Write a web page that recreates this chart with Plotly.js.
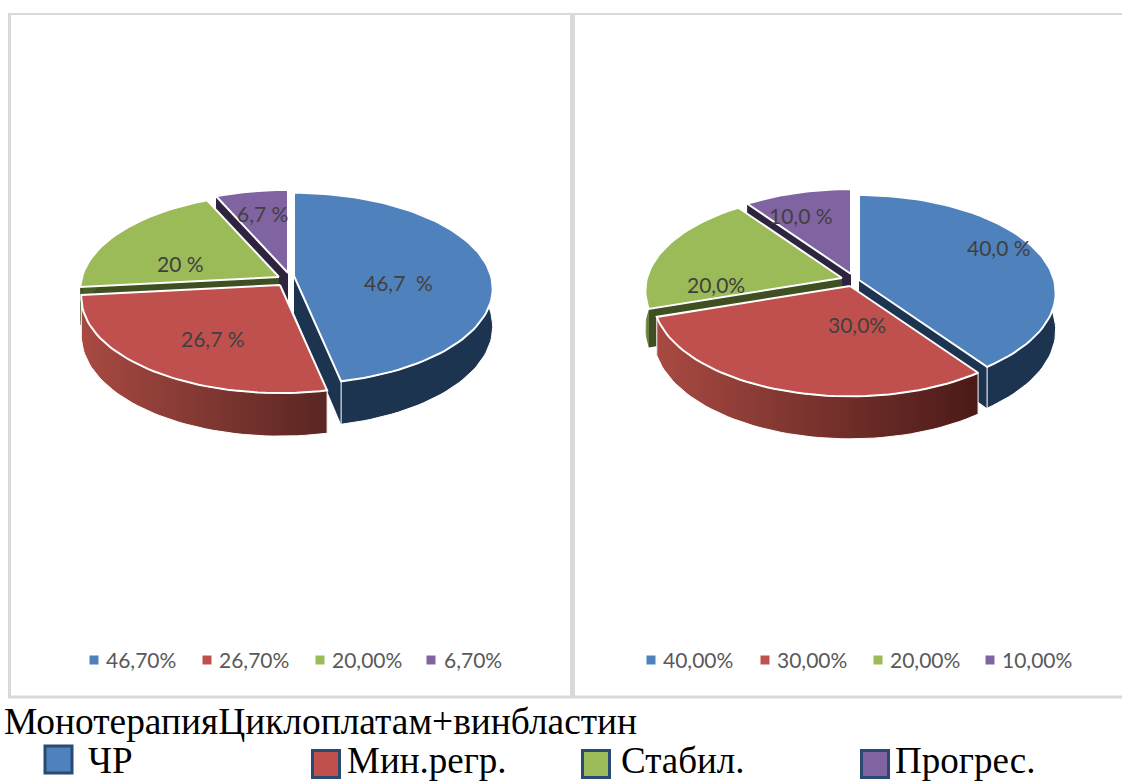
<!DOCTYPE html>
<html>
<head>
<meta charset="utf-8">
<script src="https://cdn.plot.ly/plotly-3.0.1.min.js"></script>
<style>html,body{margin:0;padding:0;background:#fff}#chart{width:1122px;height:782px}</style>
</head>
<body>
<div id="chart"></div>
<script>
// Response rates, percent
const monoValues = [46.7, 26.7, 20, 6.7];
const comboValues = [40, 30, 20, 10];
const monoLabels = ['46,7  %', '26,7 %', '20 %', '6,7 %'];
const comboLabels = ['40,0 %', '30,0%', '20,0%', '10,0 %'];
const monoLegend = ['46,70%', '26,70%', '20,00%', '6,70%'];
const comboLegend = ['40,00%', '30,00%', '20,00%', '10,00%'];
const outcomes = ['ЧР', 'Мин.регр.', 'Стабил.', 'Прогрес.'];
const caption = 'МонотерапияЦиклоплатам+винбластин';

// Slice colours: top face, radial wall, rim gradient
const topColors = ['#4f81bd', '#c0504d', '#9bbb59', '#8064a2'];
const sideColors = ['#1d3450', '#5a2420', '#3f4f22', '#2f2440'];

// Layout of each tilted pie; the apex of every slice is shifted by its own explosion
const pies = [
  {
    values: monoValues, labels: monoLabels, legend: monoLegend,
    a: 197, b: 94, p: 0.13, depth: 37.5,
    apex: [[294, 276], [280, 285], [279, 277], [288, 273]],
    labelAt: [[398, 282], [213, 338], [180, 263], [262, 213]],
    legendMarks: [94, 207, 320, 431],
    legendText: [106, 219, 332, 444],
    redEnd: '#5a2522', greenStart: '#3f4f22'
  },
  {
    values: comboValues, labels: comboLabels, legend: comboLegend,
    a: 195, b: 96, p: 0.13, depth: 37,
    apex: [[859, 280], [850, 286], [842, 278], [851, 274]],
    labelAt: [[999, 247], [857, 324], [716, 284], [801, 215]],
    legendMarks: [651, 765, 878, 990],
    legendText: [663, 777, 890, 1002],
    redEnd: '#4a1a18', greenStart: '#93b05a'
  }
];

const rimGradient = (pie, i) => {
  if (i === 1) return [[0, '#a84a42'], [1, pie.redEnd]];
  if (i === 2) return [[0, pie.greenStart], [0.035, '#4a5d27'], [1, '#3f4f22']];
  return [[0, sideColors[i]], [1, sideColors[i]]];
};

// Perspective projection of a unit-circle angle (0 = top, clockwise) onto the page
function rim(pie, apex, deg, drop) {
  const t = deg * Math.PI / 180;
  const X = Math.sin(t), Y = -Math.cos(t);
  const den = 1 - pie.p * Y;
  return [apex[0] + pie.a * X / den, apex[1] + (pie.b * Y + drop) / den];
}
function arc(pie, apex, from, to, drop) {
  const pts = [];
  const n = Math.max(2, Math.ceil((to - from) / 2));
  for (let k = 0; k <= n; k++) pts.push(rim(pie, apex, from + (to - from) * k / n, drop));
  return pts;
}
function polygon(pts, extra) {
  return Object.assign({
    x: pts.map(p => p[0]).concat(pts[0][0]),
    y: pts.map(p => p[1]).concat(pts[0][1]),
    mode: 'lines', fill: 'toself', hoverinfo: 'skip', showlegend: false
  }, extra);
}

const traces = [];
const annotations = [];
const note = (x, y, text, size, color, family, anchor) => annotations.push({
  x, y, xref: 'x', yref: 'y', text, showarrow: false, xanchor: anchor, yanchor: 'middle',
  font: { size, color, family }, borderpad: 0, borderwidth: 0
});

pies.forEach(pie => {
  const total = pie.values.reduce((s, v) => s + v, 0);
  const spans = [];
  let run = 0;
  pie.values.forEach(v => { spans.push([run, run + v / total * 360]); run += v / total * 360; });

  // Painted back to front so nearer slices hide the walls behind them
  [3, 2, 0, 1].forEach(i => {
    const [from, to] = spans[i];
    const apex = pie.apex[i];
    const dark = { line: { width: 0, color: sideColors[i] }, fillcolor: sideColors[i] };
    [from, to].forEach(edge => {
      const tip = rim(pie, apex, edge, 0), low = rim(pie, apex, edge, pie.depth);
      traces.push(polygon([apex, tip, low, [apex[0], apex[1] + pie.depth]], dark));
    });
    const upper = arc(pie, apex, from, to, 0);
    const lower = arc(pie, apex, from, to, pie.depth).reverse();
    traces.push(polygon(upper.concat(lower), {
      line: { width: i < 2 ? 1 : 0, color: '#ffffff' },
      fillcolor: sideColors[i],
      fillgradient: { type: 'horizontal', colorscale: rimGradient(pie, i) }
    }));
    traces.push(polygon([apex].concat(upper), {
      line: { width: 2, color: '#ffffff' }, fillcolor: topColors[i]
    }));
  });

  pie.labels.forEach((t, i) => note(pie.labelAt[i][0], pie.labelAt[i][1], t, 21, '#404040', 'Lato', 'center'));

  traces.push({
    x: pie.legendMarks, y: pie.legendMarks.map(() => 660), mode: 'markers',
    marker: { symbol: 'square', size: 9, color: topColors, line: { width: 0 } },
    hoverinfo: 'skip', showlegend: false
  });
  pie.legend.forEach((t, i) => note(pie.legendText[i], 659.5, t, 21, '#595959', 'Lato', 'left'));
});

// Outcome key below the panels
const keyMarks = [58.5, 326, 596, 875];
const keyRows = [759.5, 764, 764, 764];
const keyText = [88, 347, 621, 895];
traces.push({
  x: keyMarks, y: keyRows, mode: 'markers',
  marker: { symbol: 'square', size: 27, color: topColors, line: { width: 3, color: '#2b4a72' } },
  hoverinfo: 'skip', showlegend: false
});
outcomes.forEach((t, i) => note(keyText[i], 760, t, 37, '#000000', 'Liberation Serif', 'left'));
note(4, 721, caption, 37.4, '#000000', 'Liberation Serif', 'left');

const rule = (x0, y0, x1, y1, width) => ({
  type: 'line', xref: 'x', yref: 'y', x0, y0, x1, y1, layer: 'below',
  line: { color: '#d9d9d9', width }
});

Plotly.newPlot('chart', traces, {
  width: 1122, height: 782,
  margin: { l: 0, r: 0, t: 0, b: 0 },
  paper_bgcolor: '#ffffff', plot_bgcolor: '#ffffff',
  showlegend: false,
  xaxis: { range: [0, 1122], visible: false, fixedrange: true },
  yaxis: { range: [782, 0], visible: false, fixedrange: true },
  shapes: [
    rule(9.5, 14, 9.5, 698, 3),
    rule(8, 14, 1122, 14, 2),
    rule(8, 697, 1122, 697, 3),
    rule(572.5, 14, 572.5, 698, 5)
  ],
  annotations
}, { displayModeBar: false, staticPlot: true });
</script>
</body>
</html>
